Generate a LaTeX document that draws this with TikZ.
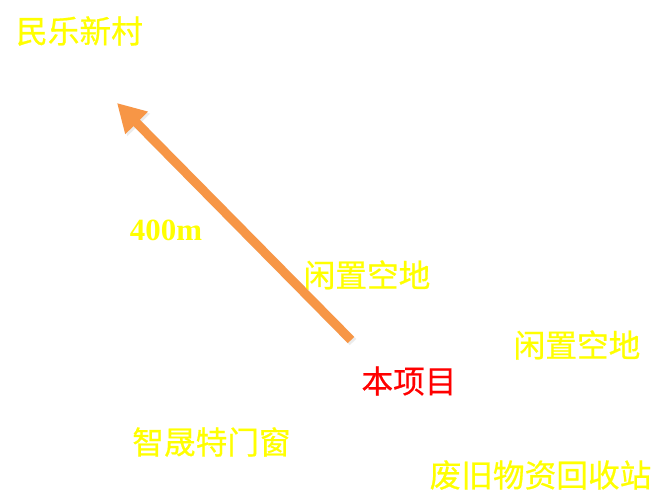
\documentclass[tikz,border=0pt]{standalone}
\usepackage{fontspec}
\newfontfamily\cjk[FakeBold=0.6]{Noto Sans CJK SC}
\newfontfamily\serifb{Liberation Serif}
\usetikzlibrary{arrows.meta}
\definecolor{lbl}{RGB}{255,255,0}
\definecolor{arr}{RGB}{247,150,70}
\tikzset{
  lab/.style={inner sep=0pt, text=lbl, font=\cjk\fontsize{31.8}{32}\selectfont},
  redlab/.style={lab, text=red},
  arrowline/.style={draw=arr, line width=9bp, -{Triangle[length=28bp,width=30bp]}},
  arrowshadow/.style={draw=black!30, opacity=0.25, line width=9bp, -{Triangle[length=28bp,width=30bp]}}
}
\begin{document}
\begin{tikzpicture}[x=1bp,y=-1bp]
\path[use as bounding box, fill=white] (0,0) rectangle (659,495);
\node[lab] (minle) at (79.5,31) {民乐新村};
\node[lab, font=\serifb\bfseries\fontsize{31}{31}\selectfont] (dist) at (166,230) {400m};
\node[lab] (xz1) at (367,275) {闲置空地};
\node[lab] (xz2) at (577,345) {闲置空地};
\node[redlab] (proj) at (409,381) {本项目};
\node[lab] (zs) at (211.5,442) {智晟特门窗};
\node[lab] (fj) at (540.5,475) {废旧物资回收站};
\coordinate (tail) at (351,340);
\coordinate (tip) at (117,103);
\coordinate (tails) at (353,342);
\coordinate (tips) at (119,105);
\draw[arrowshadow] (tails) -- (tips);
\draw[arrowline] (tail) -- (tip);
\end{tikzpicture}
\end{document}
